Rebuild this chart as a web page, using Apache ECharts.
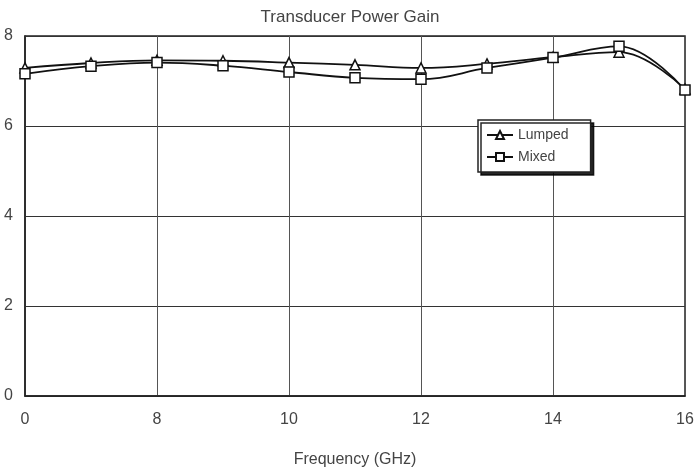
<!DOCTYPE html>
<html>
<head>
<meta charset="utf-8">
<script src="https://cdn.jsdelivr.net/npm/echarts@6/dist/echarts.min.js"></script>
<style>
  html, body { margin: 0; padding: 0; background: #fff; }
  #chart { width: 700px; height: 471px; }
</style>
</head>
<body>
<div id="chart"></div>
<script>
// frequencies (GHz)
const freq = [6, 7, 8, 9, 10, 11, 12, 13, 14, 15, 16]
// transducer power gain
const lumped = [7.29, 7.4, 7.46, 7.45, 7.41, 7.36, 7.29, 7.38, 7.53, 7.64, 6.82]
const mixed = [7.16, 7.33, 7.41, 7.34, 7.2, 7.07, 7.04, 7.29, 7.52, 7.77, 6.8]
// x tick labels as printed on the plot
const xTicks = { 6: '0', 8: '8', 10: '10', 12: '12', 14: '14', 16: '16' }
const yTicks = [0, 2, 4, 6, 8]

const chart = echarts.init(document.getElementById('chart'))

const pairs = (ys) => freq.map((f, i) => [f, ys[i]])

chart.setOption({
  animation: false,
  title: {
    text: 'Transducer Power Gain',
    left: 'center',
    top: 4,
    textStyle: {
      fontFamily: 'Arial, "Liberation Sans", sans-serif',
      fontSize: 17,
      fontWeight: 'normal',
      color: '#444',
    },
  },
  grid: {
    left: 25,
    right: 15,
    top: 36,
    bottom: 75,
    outerBoundsMode: 'none',
    show: true,
    borderColor: '#222',
    borderWidth: 1.5,
  },
  legend: {
    orient: 'vertical',
    left: 478,
    top: 120,
    itemGap: 8,
    itemWidth: 26,
    itemHeight: 10,
    padding: [8, 22, 8, 8],
    backgroundColor: '#fff',
    borderColor: '#222',
    borderWidth: 1.5,
    borderRadius: 0,
    shadowColor: 'rgba(0,0,0,0.85)',
    shadowBlur: 0,
    shadowOffsetX: 3,
    shadowOffsetY: 3,
    textStyle: {
      fontFamily: 'Arial, "Liberation Sans", sans-serif',
      fontSize: 14,
      color: '#444',
    },
    data: ['Lumped', 'Mixed'],
  },
  xAxis: {
    type: 'value',
    min: 6,
    max: 16,
    interval: 2,
    name: 'Frequency (GHz)',
    nameLocation: 'middle',
    nameGap: 56,
    nameTextStyle: {
      fontFamily: 'Arial, "Liberation Sans", sans-serif',
      fontSize: 16,
      color: '#444',
    },
    axisLine: { lineStyle: { color: '#222', width: 1.5 } },
    axisTick: { show: false },
    axisLabel: {
      margin: 16,
      fontFamily: 'Arial, "Liberation Sans", sans-serif',
      fontSize: 16,
      color: '#444',
      formatter: (v) => xTicks[v] ?? '',
    },
    splitLine: { lineStyle: { color: '#555', width: 1 } },
  },
  yAxis: {
    type: 'value',
    min: yTicks[0],
    max: yTicks[yTicks.length - 1],
    interval: 2,
    axisLine: { show: true, lineStyle: { color: '#222', width: 1.5 } },
    axisTick: { show: false },
    axisLabel: {
      margin: 12,
      fontFamily: 'Arial, "Liberation Sans", sans-serif',
      fontSize: 16,
      color: '#444',
    },
    splitLine: { lineStyle: { color: '#333', width: 1 } },
  },
  series: [
    {
      name: 'Lumped',
      type: 'line',
      data: pairs(lumped),
      smooth: 0.4,
      symbol: 'triangle',
      symbolSize: 10,
      lineStyle: { color: '#111', width: 1.8 },
      itemStyle: { color: '#fff', borderColor: '#111', borderWidth: 1.5 },
    },
    {
      name: 'Mixed',
      type: 'line',
      data: pairs(mixed),
      smooth: 0.4,
      symbol: 'rect',
      symbolSize: 10,
      lineStyle: { color: '#111', width: 1.8 },
      itemStyle: { color: '#fff', borderColor: '#111', borderWidth: 1.5 },
    },
  ],
})
</script>
</body>
</html>
